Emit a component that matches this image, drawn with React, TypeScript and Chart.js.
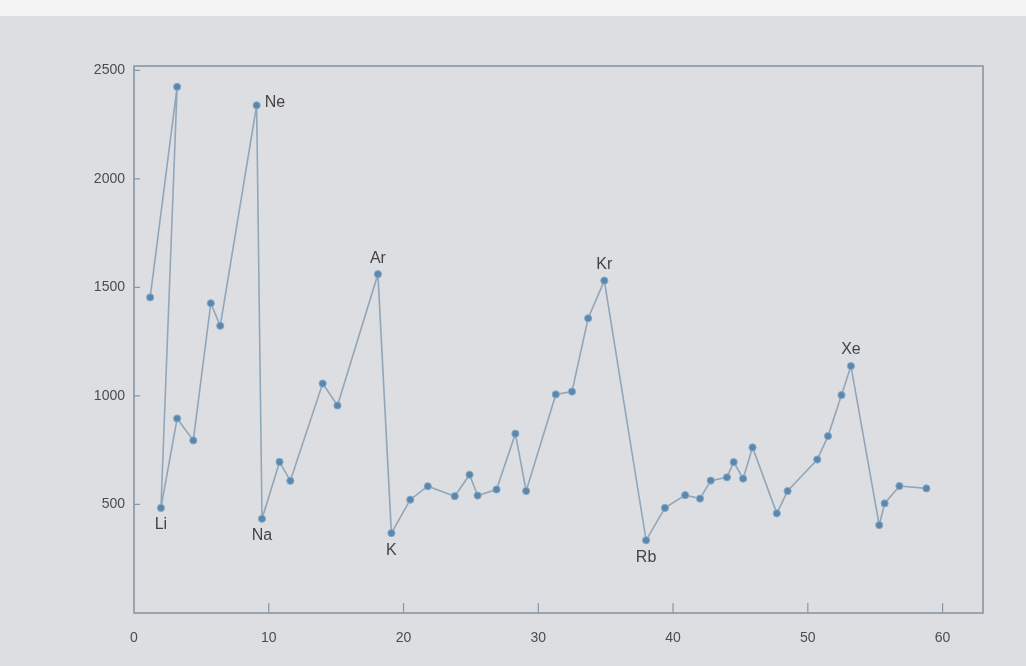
import React, { useEffect, useRef } from "react";
import { Chart, registerables } from "chart.js";

Chart.register(...registerables);

// Atomic number for each plotted marker
const atomicNumber = [
  1.2, 3.2, 2.0, 3.2, 4.4, 5.7, 6.4, 9.1, 9.5, 10.8, 11.6, 14.0, 15.1, 18.1, 19.1,
  20.5, 21.8, 23.8, 24.9, 25.5, 26.9, 28.3, 29.1, 31.3, 32.5, 33.7, 34.9,
  38.0, 39.4, 40.9, 42.0, 42.8, 44.0, 44.5, 45.2, 45.9, 47.7, 48.5, 50.7, 51.5, 52.5, 53.2,
  55.3, 55.7, 56.8, 58.8,
];

// First ionization energy for each marker
const ionizationEnergy = [
  1454, 2424, 484, 896, 795, 1427, 1323, 2339, 434, 696, 609, 1057, 956, 1561, 368,
  522, 584, 538, 637, 541, 569, 826, 562, 1007, 1020, 1358, 1531,
  335, 484, 543, 527, 610, 625, 695, 619, 763, 459, 562, 707, 815, 1004, 1138,
  405, 505, 585, 574,
];

const xTickValues = [0, 10, 20, 30, 40, 50, 60];
const yTickValues = [500, 1000, 1500, 2000, 2500];

const elementNames = ["Li", "Ne", "Na", "Ar", "K", "Kr", "Rb", "Xe"];
const elementPointIndex = [2, 7, 8, 13, 14, 26, 27, 41];
const elementPlacement = ["below", "right", "below", "above", "below", "above", "below", "above"];

const FRAME = "#8797a6";
const FONT = "'Liberation Sans', Arial, sans-serif";

const backgroundPlugin = {
  id: "paperBg",
  beforeDraw(chart: any) {
    const { ctx, width, height } = chart;
    ctx.save();
    ctx.fillStyle = "#dddee1";
    ctx.fillRect(0, 0, width, height);
    ctx.fillStyle = "#f4f4f5";
    ctx.fillRect(0, 0, width, 16);
    ctx.restore();
  },
};

const framePlugin = {
  id: "frameTicks",
  beforeDatasetsDraw(chart: any) {
    const { ctx, chartArea } = chart;
    const xs = chart.scales.x;
    const ys = chart.scales.y;
    ctx.save();
    ctx.strokeStyle = FRAME;
    ctx.lineWidth = 1.6;
    ctx.strokeRect(chartArea.left, chartArea.top, chartArea.right - chartArea.left, chartArea.bottom - chartArea.top);
    ctx.lineWidth = 1.2;
    ctx.beginPath();
    xTickValues.forEach((v) => {
      if (v === 0) return;
      const px = xs.getPixelForValue(v);
      ctx.moveTo(px, chartArea.bottom);
      ctx.lineTo(px, chartArea.bottom - 10);
    });
    yTickValues.forEach((v) => {
      const py = ys.getPixelForValue(v);
      ctx.moveTo(chartArea.left, py);
      ctx.lineTo(chartArea.left + 6, py);
    });
    ctx.stroke();
    ctx.restore();
  },
};

const labelPlugin = {
  id: "elementLabels",
  afterDatasetsDraw(chart: any) {
    const { ctx } = chart;
    const meta = chart.getDatasetMeta(0);
    ctx.save();
    ctx.font = `16px ${FONT}`;
    ctx.fillStyle = "#444447";
    elementNames.forEach((name, i) => {
      const pt = meta.data[elementPointIndex[i]];
      if (!pt) return;
      const place = elementPlacement[i];
      if (place === "right") {
        ctx.textAlign = "left";
        ctx.textBaseline = "middle";
        ctx.fillText(name, pt.x + 8, pt.y - 3);
      } else if (place === "above") {
        ctx.textAlign = "center";
        ctx.textBaseline = "bottom";
        ctx.fillText(name, pt.x, pt.y - 8);
      } else {
        ctx.textAlign = "center";
        ctx.textBaseline = "top";
        ctx.fillText(name, pt.x, pt.y + 9);
      }
    });
    ctx.restore();
  },
};

export default function App() {
  const canvasRef = useRef<HTMLCanvasElement | null>(null);

  useEffect(() => {
    const canvas = canvasRef.current;
    if (!canvas) return;
    const points = atomicNumber.map((x, i) => ({ x, y: ionizationEnergy[i] }));
    const chart = new Chart(canvas, {
      type: "line",
      data: {
        datasets: [
          {
            data: points,
            borderColor: "#90a6ba",
            borderWidth: 1.6,
            pointRadius: 3.6,
            pointBackgroundColor: "#5b87ad",
            pointBorderColor: "#86abc9",
            pointBorderWidth: 1,
            tension: 0,
            fill: false,
          },
        ],
      },
      options: {
        responsive: false,
        animation: false,
        layout: { padding: { left: 0, right: 43, top: 66, bottom: 0 } },
        plugins: {
          legend: { display: false },
          tooltip: { enabled: false },
        },
        scales: {
          x: {
            type: "linear",
            min: 0,
            max: 63,
            grid: { display: false, drawTicks: false },
            border: { display: false },
            afterBuildTicks: (scale: any) => {
              scale.ticks = xTickValues.map((v) => ({ value: v }));
            },
            afterFit: (scale: any) => {
              scale.height = 53;
            },
            ticks: {
              padding: 17,
              color: "#4c4c50",
              font: { family: FONT, size: 14 },
              maxRotation: 0,
              callback: (v: any) => String(v),
            },
          },
          y: {
            type: "linear",
            min: 0,
            max: 2520,
            grid: { display: false, drawTicks: false },
            border: { display: false },
            afterBuildTicks: (scale: any) => {
              scale.ticks = yTickValues.map((v) => ({ value: v }));
            },
            afterFit: (scale: any) => {
              scale.width = 134;
            },
            ticks: {
              padding: 9,
              color: "#4c4c50",
              font: { family: FONT, size: 14 },
              callback: (v: any) => String(v),
            },
          },
        },
      },
      plugins: [backgroundPlugin, framePlugin, labelPlugin],
    });
    return () => chart.destroy();
  }, []);

  return (
    <div style={{ position: "fixed", left: 0, top: 0, width: 1026, height: 666, background: "#dddee1" }}>
      <canvas ref={canvasRef} width={1026} height={666} style={{ display: "block" }} />
    </div>
  );
}
